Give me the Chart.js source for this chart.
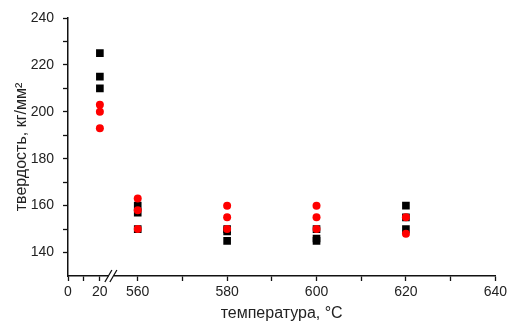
<!DOCTYPE html>
<html lang="ru">
<head>
<meta charset="UTF-8">
<title>твердость</title>
<style>
    html, body { margin: 0; padding: 0; background: #fff; }
</style>
<script src="https://cdn.jsdelivr.net/npm/chart.js"></script>
</head>
<body>
<canvas id="hardChart" width="510" height="324"></canvas>
<script>
// данные
var blackX = [20, 20, 20, 560, 560, 560, 580, 580, 580, 600, 600, 600, 620, 620, 620];
var blackY = [225, 215, 210, 160, 157, 150, 150, 149, 145, 150, 146, 145, 160, 155, 150];
var redX = [20, 20, 20, 560, 560, 560, 580, 580, 580, 600, 600, 600, 620, 620];
var redY = [203, 200, 193, 163, 158, 150, 160, 155, 150, 160, 155, 150, 155, 148];
var xTicks = [0, 10, 20, 560, 570, 580, 590, 600, 610, 620, 630, 640];
var xLabels = [0, 20, 560, 580, 600, 620, 640];
var yTicks = [140, 150, 160, 170, 180, 190, 200, 210, 220, 230, 240];
var yLabels = [140, 160, 180, 200, 220, 240];

// ось с разрывом: 0..20 узко, 560..640 широко
var f20 = 32 / 429, f560 = 70 / 429;
class BrokenScale extends Chart.LinearScale {
    getPixelForValue(v) {
        var frac;
        if (v <= 100) frac = v / 20 * f20;
        else frac = f560 + (v - 560) / 80 * (1 - f560);
        return this.getPixelForDecimal(frac);
    }
}
BrokenScale.id = 'broken';
BrokenScale.defaults = Chart.LinearScale.defaults;
Chart.register(BrokenScale);

function pts(xs, ys) {
    return xs.map(function (x, i) { return { x: x, y: ys[i] }; });
}

var breakMark = {
    id: 'breakMark',
    afterDraw: function (chart) {
        var ctx = chart.ctx, xs = chart.scales.x;
        var y = chart.chartArea.bottom;
        var a = xs.getPixelForValue(20) + 5;
        ctx.save();
        ctx.fillStyle = '#fff';
        ctx.fillRect(a + 4, y - 3, 5, 6);
        ctx.strokeStyle = '#111';
        ctx.lineWidth = 1.3;
        ctx.beginPath();
        ctx.moveTo(a, y + 6); ctx.lineTo(a + 7, y - 6);
        ctx.moveTo(a + 5, y + 6); ctx.lineTo(a + 12, y - 6);
        ctx.stroke();
        ctx.restore();
    }
};

var tickFont = { family: "'Liberation Sans', Arial, sans-serif", size: 14 };
var titleFont = { family: "'Liberation Sans', Arial, sans-serif", size: 16 };

new Chart(document.getElementById('hardChart'), {
    type: 'scatter',
    data: {
        datasets: [{
            label: 'red',
            data: pts(redX, redY),
            order: 1,
            pointStyle: 'circle',
            pointRadius: 4,
            pointHoverRadius: 4,
            backgroundColor: '#ff0000',
            borderColor: '#ff0000',
            borderWidth: 0
        }, {
            label: 'black',
            data: pts(blackX, blackY),
            order: 2,
            pointStyle: 'rect',
            pointRadius: 5.4,
            pointHoverRadius: 5.4,
            backgroundColor: '#000',
            borderColor: '#000',
            borderWidth: 0
        }]
    },
    plugins: [breakMark],
    options: {
        responsive: false,
        animation: false,
        events: [],
        layout: { padding: { top: 18, right: 13, left: 0, bottom: 0 } },
        plugins: { legend: { display: false }, tooltip: { enabled: false } },
        scales: {
            x: {
                type: 'broken',
                min: 0, max: 640,
                border: { color: '#111', width: 1.5 },
                grid: { drawOnChartArea: false, drawTicks: true, tickLength: 5, tickColor: '#111', tickWidth: 1.3 },
                afterBuildTicks: function (s) { s.ticks = xTicks.map(function (v) { return { value: v }; }); },
                afterFit: function (s) { s.height = 48; },
                ticks: {
                    autoSkip: false, maxRotation: 0, padding: 3, color: '#222', font: tickFont,
                    callback: function (v) { return xLabels.indexOf(v) >= 0 ? String(v) : ''; }
                },
                title: { display: true, text: 'температура, °С', color: '#222', font: titleFont, padding: { top: 0, bottom: 1 } }
            },
            y: {
                min: 130, max: 240,
                border: { color: '#111', width: 1.5 },
                grid: { drawOnChartArea: false, drawTicks: true, tickLength: 5, tickColor: '#111', tickWidth: 1.3 },
                afterBuildTicks: function (s) { s.ticks = yTicks.map(function (v) { return { value: v }; }); },
                afterFit: function (s) { s.width = 68; },
                ticks: {
                    autoSkip: false, padding: 9, color: '#222', font: tickFont,
                    callback: function (v) { return yLabels.indexOf(v) >= 0 ? String(v) : ''; }
                },
                title: { display: true, text: 'твердость, кг/мм²', color: '#222', font: titleFont, padding: { top: 12, bottom: 0 } }
            }
        }
    }
});
</script>
</body>
</html>
